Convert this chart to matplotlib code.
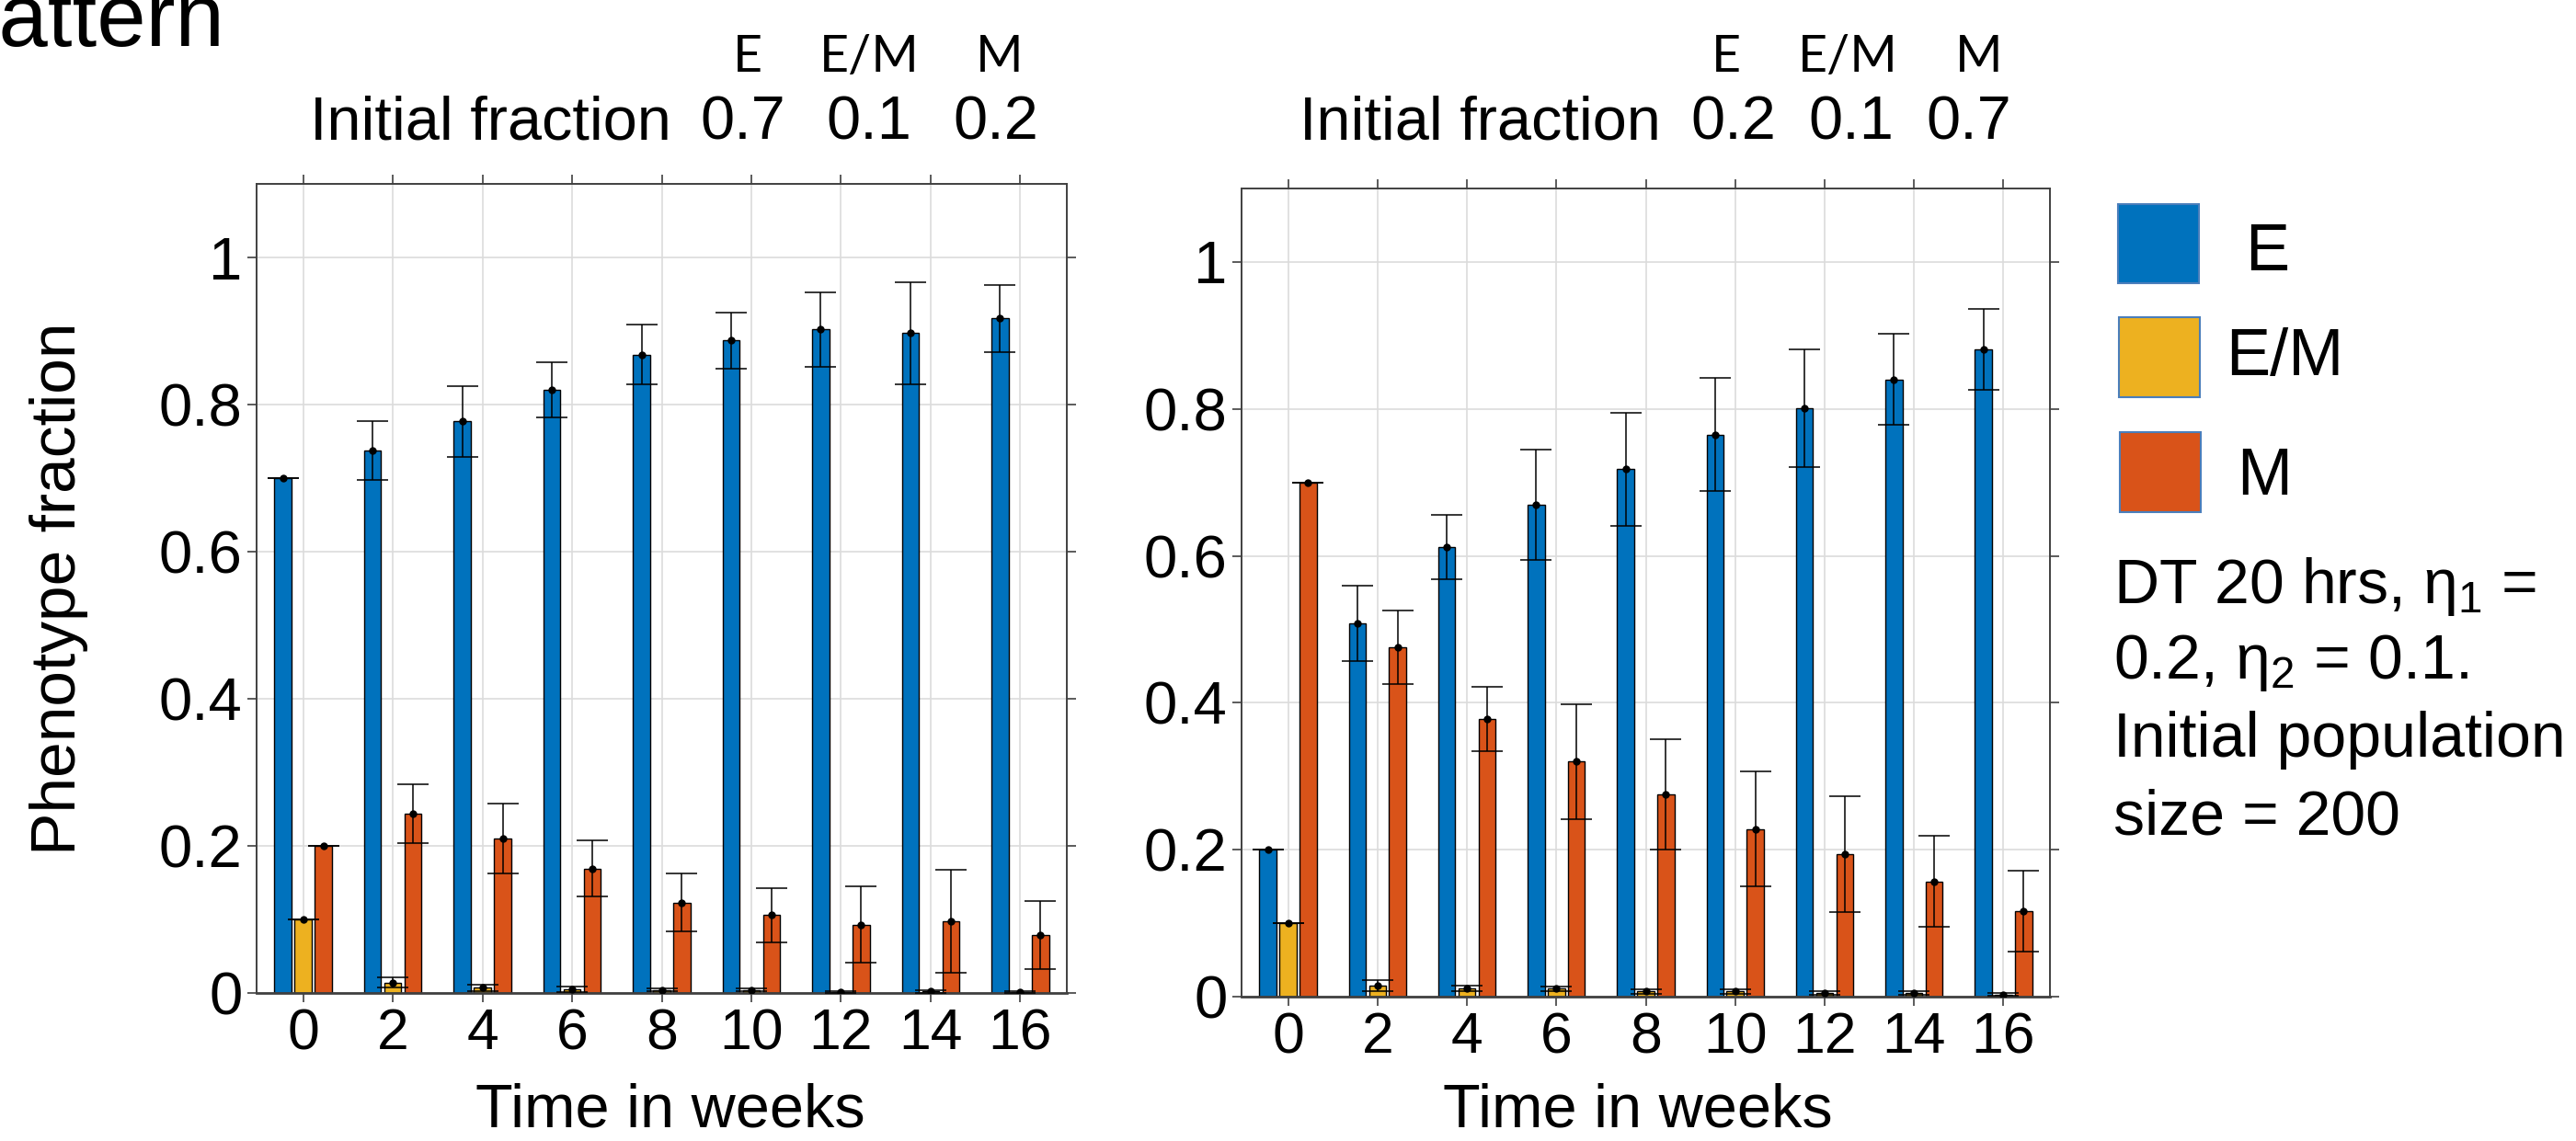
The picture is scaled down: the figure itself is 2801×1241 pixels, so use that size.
import matplotlib
matplotlib.use('Agg')
import matplotlib.pyplot as plt
from matplotlib.patches import Rectangle
import numpy as np

plt.rcParams['font.family'] = ['Liberation Sans', 'DejaVu Sans']
plt.rcParams['mathtext.fontset'] = 'custom'
plt.rcParams['mathtext.rm'] = 'Liberation Sans'
plt.rcParams['mathtext.it'] = 'Liberation Sans:italic'

# dane
weeks = [0, 2, 4, 6, 8, 10, 12, 14, 16]
phenotypes = ['E', 'E/M', 'M']
colors = ['#0072BD', '#EDB120', '#D95319']

# panel lewy: poczatkowo E 0.7, E/M 0.1, M 0.2
e_left = [0.700, 0.737, 0.777, 0.820, 0.868, 0.887, 0.902, 0.897, 0.917]
e_left_err = [0.0, 0.040, 0.048, 0.038, 0.041, 0.038, 0.051, 0.069, 0.046]
em_left = [0.100, 0.014, 0.007, 0.005, 0.004, 0.004, 0.001, 0.002, 0.001]
em_left_err = [0.0, 0.007, 0.004, 0.004, 0.002, 0.002, 0.001, 0.002, 0.001]
m_left = [0.200, 0.244, 0.210, 0.169, 0.123, 0.106, 0.093, 0.097, 0.079]
m_left_err = [0.0, 0.040, 0.048, 0.038, 0.039, 0.037, 0.052, 0.070, 0.046]
init_left = ['0.7', '0.1', '0.2']

# panel prawy: poczatkowo E 0.2, E/M 0.1, M 0.7
e_right = [0.200, 0.508, 0.612, 0.669, 0.718, 0.765, 0.801, 0.840, 0.881]
e_right_err = [0.0, 0.051, 0.044, 0.075, 0.077, 0.077, 0.080, 0.062, 0.055]
em_right = [0.100, 0.015, 0.011, 0.011, 0.007, 0.007, 0.005, 0.005, 0.003]
em_right_err = [0.0, 0.007, 0.004, 0.003, 0.003, 0.003, 0.003, 0.002, 0.002]
m_right = [0.700, 0.476, 0.378, 0.320, 0.275, 0.228, 0.194, 0.157, 0.116]
m_right_err = [0.0, 0.050, 0.044, 0.078, 0.075, 0.078, 0.079, 0.062, 0.055]
init_right = ['0.2', '0.1', '0.7']

yticks = [0, 0.2, 0.4, 0.6, 0.8, 1.0]
ytick_labels = ['0', '0.2', '0.4', '0.6', '0.8', '1']

W, H = 2801, 1241
fig = plt.figure(figsize=(W / 100, H / 100), dpi=100)


def fx(px):
    return px / W


def fy(py):
    return 1 - py / H


def draw_panel(ax, series, errors):
    x = np.arange(len(weeks))
    offsets = [-0.225, 0.0, 0.225]
    for k in range(3):
        pos = x + offsets[k]
        ax.bar(pos, series[k], width=0.19, color=colors[k], edgecolor='black',
               linewidth=1.0, zorder=2)
        ax.errorbar(pos, series[k], yerr=errors[k], fmt='o', color='black',
                    markersize=5, capsize=12, elinewidth=1.1, capthick=1.1, zorder=3)
    ax.set_xlim(-0.52, 8.52)
    ax.set_ylim(0, 1.1)
    ax.set_xticks(x)
    ax.set_xticklabels([str(w) for w in weeks])
    ax.set_yticks(yticks)
    ax.set_yticklabels(ytick_labels)
    ax.tick_params(direction='out', length=7, width=1.2, color='#404040',
                   top=True, right=True, labelsize=45, pad=4)
    ax.tick_params(axis='y', labelsize=47)
    ax.grid(True, color='#dcdcdc', linewidth=1.2)
    ax.set_axisbelow(True)
    for sp in ax.spines.values():
        sp.set_color('#404040')
        sp.set_linewidth(1.4)
    ax.spines['bottom'].set_linewidth(2.0)


ax1 = fig.add_axes([fx(279), fy(1080), fx(1160 - 279), (1080 - 200) / H])
ax2 = fig.add_axes([fx(1350), fy(1084), fx(2229 - 1350), (1084 - 205) / H])

draw_panel(ax1, [e_left, em_left, m_left], [e_left_err, em_left_err, m_left_err])
draw_panel(ax2, [e_right, em_right, m_right], [e_right_err, em_right_err, m_right_err])

# opisy osi
fig.text(fx(64), fy(640), 'Phenotype fraction', rotation=90, ha='center', va='center', fontsize=50)
fig.text(fx(729), fy(1225), 'Time in weeks', ha='center', va='baseline', fontsize=48)
fig.text(fx(1781), fy(1226), 'Time in weeks', ha='center', va='baseline', fontsize=48)

# urywek tytulu
fig.text(fx(245), fy(50), 'pattern', ha='right', va='baseline', fontsize=69)

# naglowki z poczatkowym udzialem
header_font = ['Lato', 'Liberation Sans', 'DejaVu Sans']
headers = [
    (337, [813, 945, 1087], [808, 945, 1083], init_left),
    (1413, [1877, 2009, 2152], [1885, 2013, 2141], init_right),
]
for start, name_x, val_x, vals in headers:
    fig.text(fx(start), fy(151), 'Initial fraction', ha='left', va='baseline', fontsize=48)
    for nx, vx, name, v in zip(name_x, val_x, phenotypes, vals):
        fig.text(fx(nx), fy(78), name, ha='center', va='baseline', fontsize=40, family=header_font)
        fig.text(fx(vx), fy(151), v, ha='center', va='baseline', fontsize=48)

# legenda
legend_boxes = [(2303, 222, 308), (2304, 345, 432), (2305, 470, 557)]
legend_text_x = [2441, 2420, 2432]
legend_text_y = [275, 390, 520]
for (x0, y0, y1), c, name, tx, ty in zip(legend_boxes, colors, phenotypes, legend_text_x, legend_text_y):
    fig.add_artist(Rectangle((fx(x0), fy(y1)), fx(88), (y1 - y0) / H, transform=fig.transFigure,
                             facecolor=c, edgecolor='#4a7ebb', linewidth=1.5))
    fig.text(fx(tx), fy(ty), name, ha='left', va='center', fontsize=52)

notes = ['DT 20 hrs, η$_1$ =', '0.2, η$_2$ = 0.1.', 'Initial population', 'size = 200']
note_y = [656, 738, 823, 907]
for line, y in zip(notes, note_y):
    fig.text(fx(2298), fy(y), line, ha='left', va='baseline', fontsize=49)

fig.savefig('out.png', dpi=100)
